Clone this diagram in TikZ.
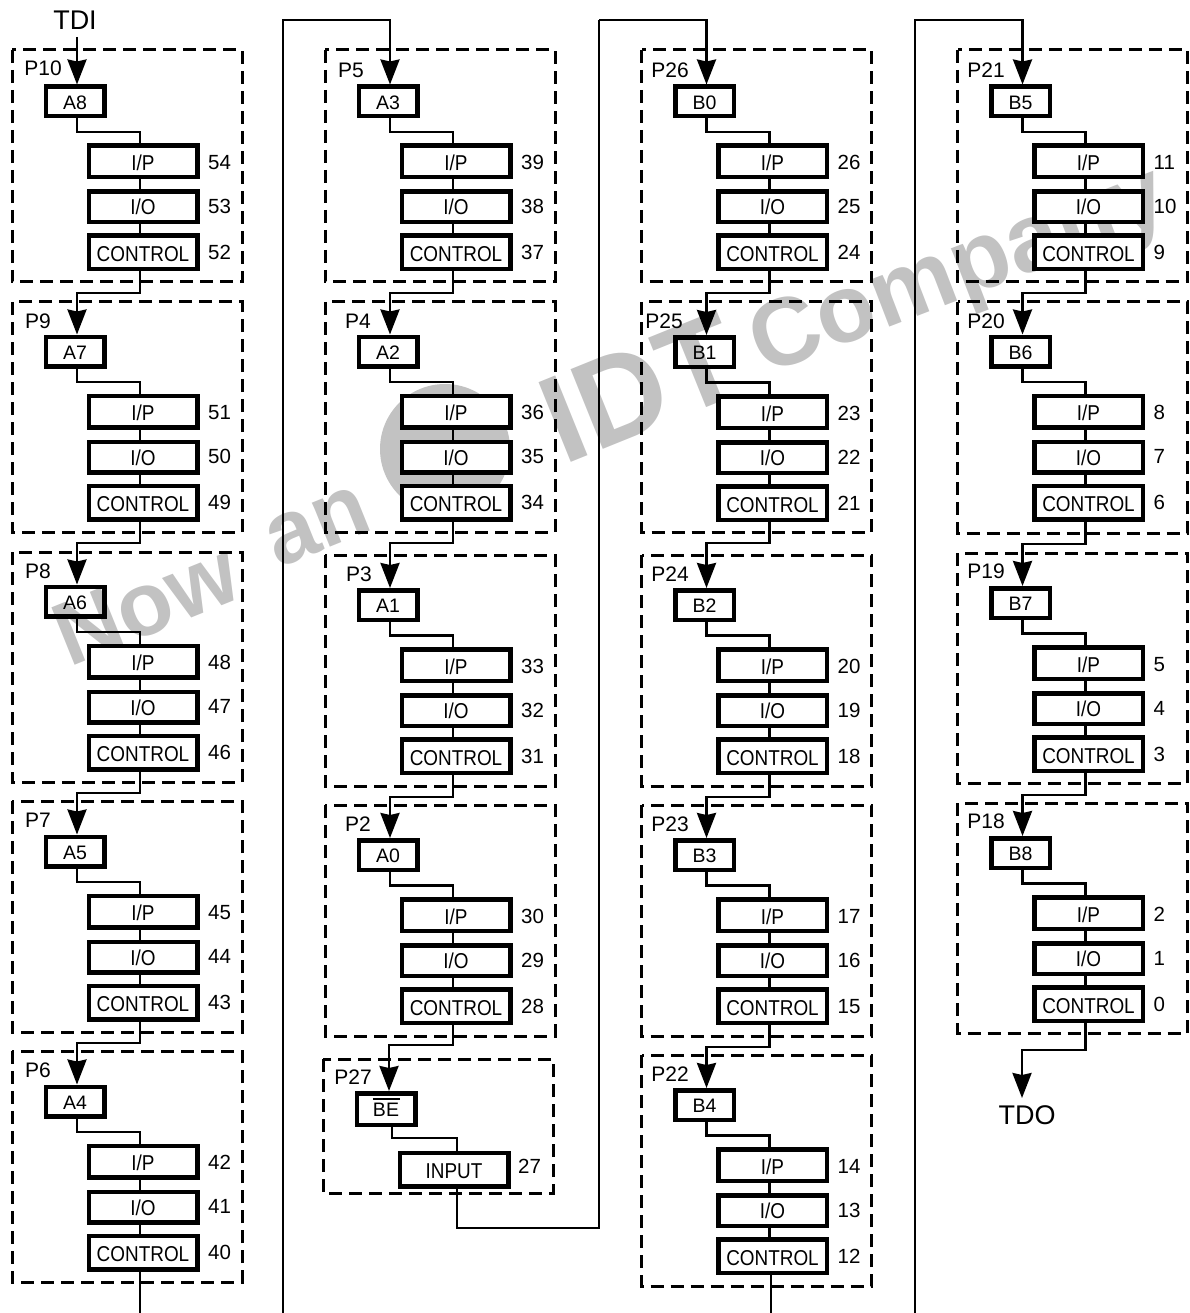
\documentclass[tikz,border=0pt]{standalone}
\usepackage{fontspec}
\setmainfont{Liberation Sans}
\newfontfamily\tallfont{Liberation Sans}[FakeStretch=0.88]
\newfontfamily\markfont{Liberation Sans}
\usetikzlibrary{arrows.meta}
\definecolor{stipple}{gray}{0.76}
\tikzset{
  x=1pt,y=-1pt,
  group/.style={draw,line width=3pt,dash pattern=on 13pt off 7pt},
  thickbox/.style={draw,line width=4.5pt,inner sep=0pt,align=center},
  addr/.style={thickbox,minimum width=58.5pt,minimum height=29.5pt,font=\fontsize{19.5}{19.5}\selectfont,text height=15.6pt,text depth=0pt},
  ipbox/.style={thickbox,fill=white,minimum width=108.5pt,minimum height=31.5pt,font=\tallfont\fontsize{21.5}{21.5}\selectfont,text height=18.4pt,text depth=0pt},
  iobox/.style={thickbox,fill=white,minimum width=108.5pt,minimum height=30.5pt,font=\tallfont\fontsize{21.5}{21.5}\selectfont,text height=16pt,text depth=0pt},
  ctlbox/.style={thickbox,fill=white,minimum width=108.5pt,minimum height=33.5pt,font=\tallfont\fontsize{21.5}{21.5}\selectfont,text height=18.4pt,text depth=0pt},
  inbox/.style={ctlbox,text height=17.6pt},
  num/.style={anchor=west,inner sep=0pt,font=\fontsize{20.5}{20.5}\selectfont,text height=14.6pt,text depth=0pt},
  plabel/.style={inner sep=0pt,font=\fontsize{21}{21}\selectfont,text height=15pt,text depth=0pt},
  wire/.style={line width=2.6pt},
  feed/.style={wire,-{Stealth[length=25pt,width=19pt,inset=2pt]}},
  bigtext/.style={inner sep=0pt,font=\fontsize{27}{27}\selectfont},
  mark text/.style={inner sep=0pt,text=stipple,rotate=22,font=\markfont\bfseries\fontsize{90}{90}\selectfont},
}
% id, x offset, content top, dashed top, dashed bottom, label x, label y, address, pin label, then n1, n2, n3
\newcommand{\blockcell}[9]{%
  \def\cid{#1}\def\cdx{#2}\def\cbase{#3}\def\ctop{#4}\def\cbot{#5}\def\clx{#6}\def\cly{#7}\def\caddr{#8}\def\cpin{#9}%
  \blockcellrest}
\newcommand{\blockcellrest}[3]{%
  \path[group] (12+\cdx,\ctop) rectangle (242+\cdx,\cbot);
  \node[plabel] (\cid-l) at (\clx,\cly) {\cpin};
  \coordinate (\cid-bend) at (77+\cdx,\cbase+82);
  \coordinate (\cid-x) at (140+\cdx,\cbase+82);
  \node[addr] (\cid-a) at (75+\cdx,\cbase+51.5) {\caddr};
  \node[ipbox] (\cid-p) at (143+\cdx,\cbase+111.5) {I/P};
  \node[iobox] (\cid-o) at (143+\cdx,\cbase+157) {I/O};
  \node[ctlbox] (\cid-c) at (143+\cdx,\cbase+202.5) {CONTROL};
  \node[num] (\cid-n1) at (208+\cdx,\cbase+112.5) {#1};
  \node[num] (\cid-n2) at (208+\cdx,\cbase+156.5) {#2};
  \node[num] (\cid-n3) at (208+\cdx,\cbase+202.5) {#3};
  \draw[wire] (\cid-a.south -| \cid-bend) -- (\cid-bend) -- (\cid-x) -- (\cid-x |- \cid-p.north);
  \draw[wire] (\cid-x |- \cid-p.south) -- (\cid-x |- \cid-o.north);
  \draw[wire] (\cid-x |- \cid-o.south) -- (\cid-x |- \cid-c.north);
}
% from-id, to-id, y of the jog
\newcommand{\linkcells}[3]{%
  \draw[feed] (#1-x |- #1-c.south) |- (#2-bend |- 0,#3) -- (#2-bend |- #2-a.north);
}
\begin{document}
\begin{tikzpicture}
\useasboundingbox (0,0) rectangle (1189,1313);
% watermark
\node[mark text] (w1) at (146,604) {Now};
\node[mark text] (w2) at (318,527) {an};
\fill[stipple] (445,449) circle (65pt);
\node[mark text,font=\markfont\bfseries\fontsize{125}{125}\selectfont] (w3) at (641,388) {IDT};
\node[mark text,rotate=-1,font=\markfont\bfseries\fontsize{96}{96}\selectfont] (w4) at (960,275) {Company};

% column 1
\blockcell{p10}{0}{50}{50}{282}{43}{68}{A8}{P10}{54}{53}{52}
\blockcell{p9}{0}{300}{302}{532}{38}{321}{A7}{P9}{51}{50}{49}
\blockcell{p8}{0}{550}{552}{782}{38}{571}{A6}{P8}{48}{47}{46}
\blockcell{p7}{0}{800}{801}{1032}{38}{820}{A5}{P7}{45}{44}{43}
\blockcell{p6}{0}{1050}{1051}{1282}{38}{1070}{A4}{P6}{42}{41}{40}
% column 2
\blockcell{p5}{313}{50}{50}{282}{351}{70}{A3}{P5}{39}{38}{37}
\blockcell{p4}{313}{300}{302}{532}{358}{321}{A2}{P4}{36}{35}{34}
\blockcell{p3}{313}{553.5}{555}{786}{359}{574}{A1}{P3}{33}{32}{31}
\blockcell{p2}{313}{803.5}{805}{1036}{358}{824}{A0}{P2}{30}{29}{28}
% P27
\path[group] (323,1059) rectangle (553,1193);
\node[plabel] (p27-l) at (353,1077) {P27};
\node[addr,minimum height=31.5pt] (p27-a) at (386,1109) {\rlap{\raisebox{17pt}{\rule{27.5pt}{1.4pt}}}BE};
\node[inbox] (p27-i) at (454,1169.5) {INPUT};
\node[num] (p27-n) at (518,1166) {27};
\coordinate (p27-bend) at (392,1138);
\coordinate (p27-x) at (457,1138);
\draw[wire] (p27-a.south -| p27-bend) -- (p27-bend) -- (p27-x) -- (p27-x |- p27-i.north);
% column 3
\blockcell{p26}{629.5}{50}{50}{282}{670}{70}{B0}{P26}{26}{25}{24}
\blockcell{p25}{629.5}{300.5}{302}{532}{664}{321}{B1}{P25}{23}{22}{21}
\blockcell{p24}{629.5}{553.5}{555}{786}{670}{574}{B2}{P24}{20}{19}{18}
\blockcell{p23}{629.5}{803.5}{805}{1036}{670}{824}{B3}{P23}{17}{16}{15}
\blockcell{p22}{629.5}{1053.5}{1055}{1286}{670}{1074}{B4}{P22}{14}{13}{12}
% column 4
\blockcell{p21}{945.5}{50}{50}{282}{986}{70}{B5}{P21}{11}{10}{9}
\blockcell{p20}{945.5}{300}{302}{533}{986}{321}{B6}{P20}{8}{7}{6}
\blockcell{p19}{945.5}{551.5}{553}{783}{986}{571}{B7}{P19}{5}{4}{3}
\blockcell{p18}{945.5}{801.5}{803}{1033}{986}{821}{B8}{P18}{2}{1}{0}

% links inside columns
\linkcells{p10}{p9}{293}
\linkcells{p9}{p8}{543}
\linkcells{p8}{p7}{793}
\linkcells{p7}{p6}{1043}
\linkcells{p5}{p4}{293}
\linkcells{p4}{p3}{543}
\linkcells{p3}{p2}{797}
\linkcells{p26}{p25}{293}
\linkcells{p25}{p24}{543}
\linkcells{p24}{p23}{797}
\linkcells{p23}{p22}{1047}
\linkcells{p21}{p20}{293}
\linkcells{p20}{p19}{544}
\linkcells{p19}{p18}{795}
\coordinate (be-in) at (389,1045);
\draw[feed] (p2-x |- p2-c.south) |- (be-in) -- (be-in |- p27-a.north);

% TDI, TDO and the long returns
\node[bigtext] (tdi) at (75,20) {TDI};
\node[bigtext] (tdo) at (1027,1115) {TDO};
\coordinate (tdi-end) at (77,37);
\coordinate (c1out) at (140,1313);
\coordinate (c2in) at (283,1313);
\coordinate (c2top) at (283,20);
\coordinate (c2mid) at (599,1228);
\coordinate (c3top) at (599,20);
\coordinate (c3out) at (771,1313);
\coordinate (c4in) at (915,1313);
\coordinate (c4top) at (915,20);
\coordinate (tdoj) at (1022,1050);
\coordinate (tdoend) at (1022,1098);
\draw[feed] (tdi-end) -- (tdi-end |- p10-a.north);
\draw[wire] (c1out |- p6-c.south) -- (c1out);
\draw[feed] (c2in) -- (c2top) -| (p5-bend |- p5-a.north);
\draw[wire] (p27-x |- p27-i.south) |- (c2mid) -- (c3top);
\draw[feed] (c3top) -| (p26-bend |- p26-a.north);
\draw[wire] (c3out |- p22-c.south) -- (c3out);
\draw[feed] (c4in) -- (c4top) -| (p21-bend |- p21-a.north);
\draw[feed] (p18-x |- p18-c.south) |- (tdoj) -- (tdoend);
\end{tikzpicture}
\end{document}
